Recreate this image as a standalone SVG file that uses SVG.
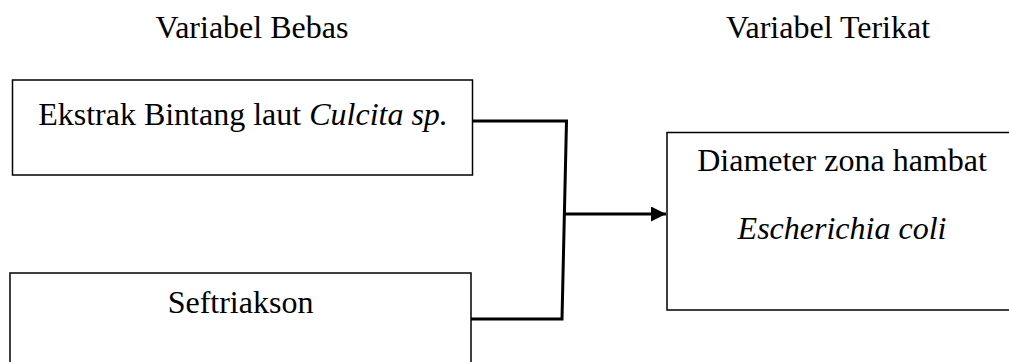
<svg xmlns="http://www.w3.org/2000/svg" width="1009" height="362" viewBox="0 0 1009 362">
  <style>
    .box { fill: #ffffff; stroke: #000000; stroke-width: 1.5; }
    .txt { font-family: "Liberation Serif", "Times New Roman", serif; font-size: 32px; fill: #000000; text-anchor: middle; }
    .it { font-style: italic; }
    .wire { fill: none; stroke: #000000; stroke-width: 3; }
  </style>
  <defs>
    <marker id="arrowhead" markerWidth="15" markerHeight="15" refX="15" refY="7.5" orient="auto" markerUnits="userSpaceOnUse">
      <polygon points="0,0 15,7.5 0,15" fill="#000000"/>
    </marker>
  </defs>
  <rect width="1009" height="362" fill="#ffffff"/>

  <!-- column headings -->
  <text class="txt" x="252" y="38">Variabel Bebas</text>
  <text class="txt" x="828" y="38">Variabel Terikat</text>

  <!-- independent variables -->
  <g id="node-ekstrak">
    <rect class="box" x="12.5" y="80" width="460" height="95"/>
    <text class="txt" x="243" y="125">Ekstrak Bintang laut <tspan class="it">Culcita sp.</tspan></text>
  </g>
  <g id="node-seftriakson">
    <rect class="box" x="10" y="273" width="461" height="110"/>
    <text class="txt" x="240.5" y="313">Seftriakson</text>
  </g>

  <!-- dependent variable -->
  <g id="node-diameter">
    <rect class="box" x="667" y="132.5" width="352" height="177.5"/>
    <text class="txt" x="842" y="171">Diameter zona hambat</text>
    <text class="txt it" x="842" y="239">Escherichia coli</text>
  </g>

  <!-- connectors -->
  <g id="connectors">
    <polyline class="wire" points="473,121 566.5,121 562,319 471,319"/>
    <line class="wire" x1="564.5" y1="214" x2="666" y2="214" marker-end="url(#arrowhead)"/>
  </g>
</svg>
